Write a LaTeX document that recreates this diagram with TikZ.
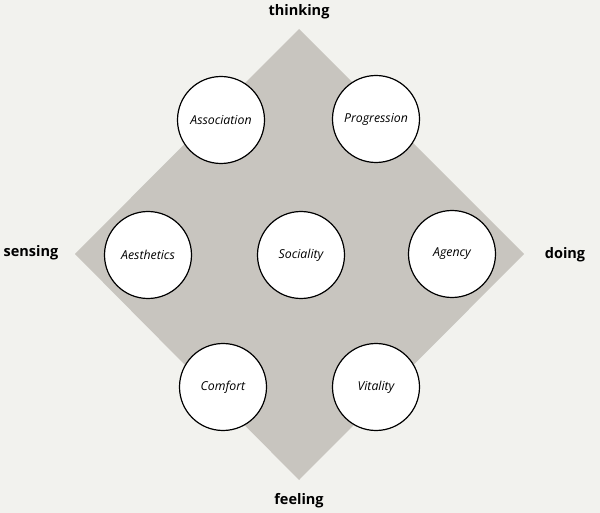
\documentclass[tikz,border=0pt]{standalone}
\usepackage{fontspec}
\setmainfont{Open Sans}
\definecolor{bg}{HTML}{F2F2EE}
\definecolor{dia}{HTML}{C8C5BF}
\begin{document}
\begin{tikzpicture}[x=1pt,y=-1pt,
  quality/.style={circle,draw=black,line width=1.2pt,fill=white,minimum size=87pt,inner sep=0pt,font=\fontsize{12.3}{14}\selectfont\itshape},
  axis/.style={font=\fontsize{14.5}{17}\selectfont\bfseries}]
\fill[bg] (0,0) rectangle (600,513);
\useasboundingbox (0,0) rectangle (600,513);
\coordinate (T) at (299,29);
\coordinate (R) at (524,254);
\coordinate (B) at (299,480);
\coordinate (L) at (75,254);
\fill[dia] (T) -- (R) -- (B) -- (L) -- cycle;
\node[quality] (assoc) at (221,120) {Association};
\node[quality] (prog) at (376,119) {Progression};
\node[quality] (aes) at (148,255) {Aesthetics};
\node[quality] (soc) at (301,255) {Sociality};
\node[quality] (agency) at (452,254) {Agency};
\node[quality] (comf) at (223,387) {Comfort};
\node[quality] (vital) at (376,387) {Vitality};
\node[axis] (thinking) at (299,12) {thinking};
\node[axis] (sensing) at (31,253) {sensing};
\node[axis] (doing) at (565,255) {doing};
\node[axis] (feeling) at (299,501) {feeling};
\end{tikzpicture}
\end{document}
